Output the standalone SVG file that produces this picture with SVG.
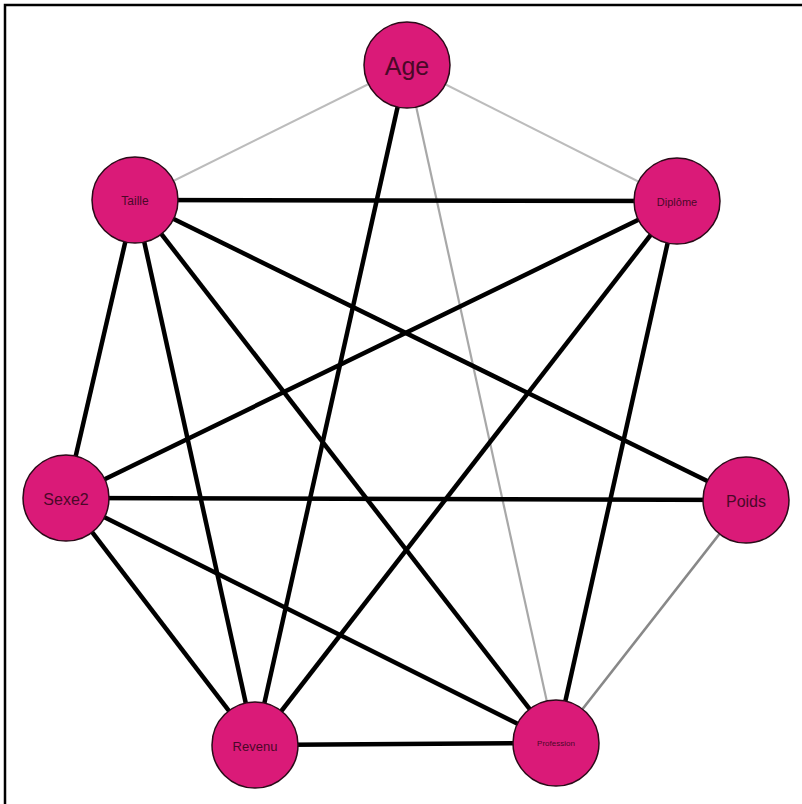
<svg xmlns="http://www.w3.org/2000/svg" width="802" height="804" viewBox="0 0 802 804">
<style>
.n{fill:#DA1A78;stroke:#2a0a18;stroke-width:1.5}
.t{font-family:"Liberation Sans",Arial,sans-serif;fill:#4a0828;text-anchor:middle;dominant-baseline:central}
.e{stroke:#000;stroke-width:4.5;fill:none}
.g1{stroke:#bcbcbc;stroke-width:2;fill:none}
.g2{stroke:#a8a8a8;stroke-width:2.2;fill:none}
.g3{stroke:#888;stroke-width:2.6;fill:none}
</style>
<rect x="0" y="0" width="802" height="804" fill="#fff"/>
<path d="M5 804 V5 H802" fill="none" stroke="#000" stroke-width="2.5"/>
<g id="edges">
<line class="g1" x1="407" y1="65" x2="135" y2="200"/>
<line class="g1" x1="407" y1="65" x2="677" y2="201"/>
<line class="g2" x1="407" y1="65" x2="556" y2="743"/>
<line class="g3" x1="746" y1="500" x2="556" y2="743"/>
<line class="e" x1="407" y1="65" x2="255" y2="745"/>
<line class="e" x1="135" y1="200" x2="677" y2="201"/>
<line class="e" x1="135" y1="200" x2="66" y2="498"/>
<line class="e" x1="135" y1="200" x2="255" y2="745"/>
<line class="e" x1="135" y1="200" x2="556" y2="743"/>
<line class="e" x1="135" y1="200" x2="746" y2="500"/>
<line class="e" x1="677" y1="201" x2="66" y2="498"/>
<line class="e" x1="677" y1="201" x2="255" y2="745"/>
<line class="e" x1="677" y1="201" x2="556" y2="743"/>
<line class="e" x1="66" y1="498" x2="746" y2="500"/>
<line class="e" x1="66" y1="498" x2="255" y2="745"/>
<line class="e" x1="66" y1="498" x2="556" y2="743"/>
<line class="e" x1="255" y1="745" x2="556" y2="743"/>
</g>
<g id="Age"><circle class="n" cx="407" cy="65" r="43"/><text class="t" x="407" y="66" font-size="25">Age</text></g>
<g id="Taille"><circle class="n" cx="135" cy="200" r="43"/><text class="t" x="135" y="201" font-size="12">Taille</text></g>
<g id="Diplome"><circle class="n" cx="677" cy="201" r="43"/><text class="t" x="677" y="202" font-size="11">Diplôme</text></g>
<g id="Sexe2"><circle class="n" cx="66" cy="498" r="43"/><text class="t" x="66" y="499" font-size="16">Sexe2</text></g>
<g id="Poids"><circle class="n" cx="746" cy="500" r="43"/><text class="t" x="746" y="501" font-size="16">Poids</text></g>
<g id="Revenu"><circle class="n" cx="255" cy="745" r="43"/><text class="t" x="255" y="746" font-size="13">Revenu</text></g>
<g id="Profession"><circle class="n" cx="556" cy="743" r="43"/><text class="t" x="556" y="743" font-size="8">Profession</text></g>
</svg>
